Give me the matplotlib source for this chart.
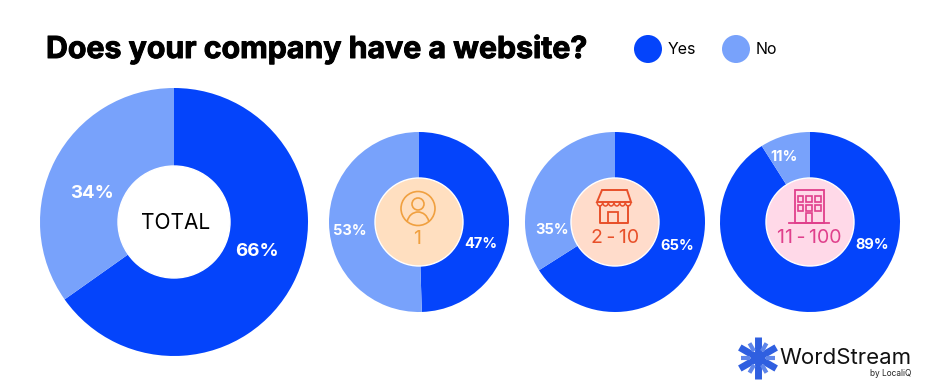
import matplotlib
matplotlib.use('Agg')
import matplotlib.pyplot as plt
from matplotlib.patches import Circle, Rectangle, Arc, Polygon
import matplotlib.patheffects as pe
import numpy as np

W, H = 937, 391
BLUE = '#0444fb'
LIGHT = '#78a2fb'

title = 'Does your company have a website?'
legend_labels = ['Yes', 'No']
# printed percentages
yes_values = [66, 47, 65, 89]
no_values = [34, 53, 35, 11]
# the arcs as drawn do not quite follow the printed numbers
yes_arcs = [65.2, 49.5, 66, 91]
no_arcs = [34.8, 50.5, 34, 9]
center_labels = ['TOTAL', '1', '2\u2009-\u200910', '11\u2009-\u2009100']
hole_colors = ['#ffffff', '#ffdfc0', '#ffdccb', '#ffd9e8']
text_colors = ['#000000', '#f0a040', '#e8502a', '#e0408c']

plt.rcParams['font.family'] = ['Inter', 'DejaVu Sans']

fig = plt.figure(figsize=(W/100, H/100), dpi=100)
ax = fig.add_axes([0, 0, 1, 1])


def Y(y):
    return H-y


def ring(cx, cy, r, yes, no, hole_r, hole_color):
    ax.pie([yes, no], colors=[BLUE, LIGHT], startangle=90, counterclock=False,
           center=(cx, Y(cy)), radius=r, frame=True,
           wedgeprops={'linewidth': 0})
    ax.add_patch(Circle((cx, Y(cy)), hole_r, fc=hole_color, ec='white', lw=1, zorder=3))


ring(174, 222, 134, yes_arcs[0], no_arcs[0], 56, hole_colors[0])
ring(419, 222, 90, yes_arcs[1], no_arcs[1], 44, hole_colors[1])
ring(615, 222, 90, yes_arcs[2], no_arcs[2], 44, hole_colors[2])
ring(810, 222, 90, yes_arcs[3], no_arcs[3], 44, hole_colors[3])
ax.set_xlim(0, W)
ax.set_ylim(0, H)
ax.axis('off')
ax.set_aspect('auto')

t = ax.text(46, Y(49), title, fontsize=21.8, fontweight='bold', color='black', va='center', ha='left')
t.set_path_effects([pe.withStroke(linewidth=0.7, foreground='black')])

# legend
for x, tx, c, lab in zip([648, 736], [668, 756], [BLUE, LIGHT], legend_labels):
    ax.add_patch(Circle((x, Y(49)), 14, fc=c, ec='none'))
    ax.text(tx, Y(50), lab, fontsize=11.5, color='black', va='center', ha='left')

# percent labels
big = [(257, 251), (92, 193)]
small_yes = [(481, 244), (677, 246), (872, 245)]
small_no = [(350, 231), (552, 230), (784, 157)]
for (x, y), v in zip(big, [yes_values[0], no_values[0]]):
    ax.text(x, Y(y), f'{v}%', fontsize=13.5, fontweight='bold', color='white', ha='center', va='center')
for (x, y), v in zip(small_yes, yes_values[1:]):
    ax.text(x, Y(y), f'{v}%', fontsize=10.5, fontweight='bold', color='white', ha='center', va='center')
for (x, y), v in zip(small_no, no_values[1:]):
    ax.text(x, Y(y), f'{v}%', fontsize=10.5, fontweight='bold', color='white', ha='center', va='center')

# center labels
ax.text(176, Y(223), center_labels[0], fontsize=15, color=text_colors[0], ha='center', va='center', zorder=5)
ax.text(417, Y(239), center_labels[1], fontsize=14, color=text_colors[1], ha='center', va='center', zorder=5)
ax.text(615, Y(238), center_labels[2], fontsize=14, color=text_colors[2], ha='center', va='center', zorder=5)
ax.text(809, Y(238), center_labels[3], fontsize=14, color=text_colors[3], ha='center', va='center', zorder=5)

# person icon
c = text_colors[1]
ax.add_patch(Circle((418, Y(208.5)), 17, fc='none', ec=c, lw=1.2, zorder=5))
ax.add_patch(Circle((418, Y(204)), 6, fc='none', ec=c, lw=1.2, zorder=5))
ax.add_patch(Arc((418, Y(224)), 22, 24, theta1=15, theta2=165, ec=c, lw=1.2, zorder=5))

# shop icon
c = text_colors[2]
ax.add_patch(Polygon([(597, Y(202)), (602, Y(190)), (627, Y(190)), (631, Y(202))], closed=True,
                     fc='none', ec=c, lw=1.4, zorder=5))
for sx in np.linspace(597, 631, 7)[:-1]:
    ax.add_patch(Arc((sx+34/12, Y(202)), 34/6, 8, theta1=180, theta2=360, ec=c, lw=1.1, zorder=5))
ax.plot([600, 600, 628, 628], [Y(206), Y(223), Y(223), Y(206)], color=c, lw=1.4, zorder=5)
ax.add_patch(Rectangle((608, Y(223)), 10, 11, fc='none', ec=c, lw=1.3, zorder=5))

# building icon
c = text_colors[3]
ax.add_patch(Rectangle((795, Y(223)), 29, 33, fc='none', ec=c, lw=1.3, zorder=5))
ax.plot([789, 829], [Y(223), Y(223)], color=c, lw=1.3, zorder=5)
for row_y in [202, 211]:
    for col_x in [798, 806.5, 815.5]:
        ax.add_patch(Rectangle((col_x, Y(row_y)), 5.5, 6, fc='none', ec=c, lw=1.2, zorder=5))
ax.add_patch(Rectangle((806, Y(223)), 6, 10, fc='none', ec=c, lw=1.2, zorder=5))

# logo
lx, ly = 758, 358
for ang in np.arange(0, 360, 60):
    a = np.radians(ang+30)
    ax.plot([lx, lx+21*np.cos(a)], [Y(ly), Y(ly)+21*np.sin(a)],
            color='#2f5fe0', lw=5, solid_capstyle='butt')
for ang in np.arange(0, 360, 60):
    a = np.radians(ang)
    ax.plot([lx+8*np.cos(a), lx+17*np.cos(a)], [Y(ly)+8*np.sin(a), Y(ly)+17*np.sin(a)],
            color='#5f86ea', lw=3, solid_capstyle='butt')
ax.text(779, Y(358), 'WordStream', fontsize=16, color='#111111', ha='left', va='center')
ax.text(911, Y(373), 'by LocaliQ', fontsize=6, color='#222222', ha='right', va='center')

fig.savefig('out.png', dpi=100)
